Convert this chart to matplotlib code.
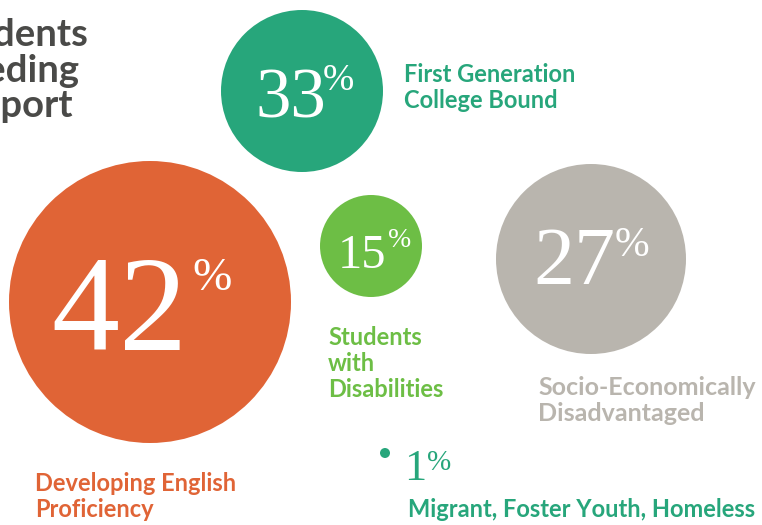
import matplotlib.pyplot as plt
from matplotlib.patches import Circle

# data
values = [42, 33, 15, 27, 1]
labels = ["Developing English\nProficiency",
          "First Generation\nCollege Bound",
          "Students\nwith\nDisabilities",
          "Socio-Economically\nDisadvantaged",
          "Migrant, Foster Youth, Homeless"]
title = "Students\nNeeding\nSupport"

# layout (pixels, y down)
colors = ["#E06436", "#27A67B", "#6DBE45", "#B9B5AE", "#27A67B"]
centers = [(150, 302), (302, 91), (371, 246), (591, 259), (385, 453)]
radii = [141, 81, 51, 95, 5]
num_pos = [(188, 350), (326, 118), (386, 268), (615, 284), (426, 480)]
num_size = [98, 51, 35, 59, 32]
pct_pos = [(192, 258), (323, 64), (388, 228), (615, 227), (427, 450)]
pct_size = [34, 27, 20, 30, 21]
num_color = ["white", "white", "white", "white", "#27A67B"]
# last-line baseline of each label
lab_pos = [(35, 517), (404, 108), (328, 397), (538, 421), (408, 517)]
lab_size = [17, 17, 17, 18, 17]

fig = plt.figure(figsize=(7.62, 5.25), dpi=100)
ax = fig.add_axes([0, 0, 1, 1])
ax.set_xlim(0, 762)
ax.set_ylim(525, 0)
ax.set_aspect("equal")
ax.axis("off")

for i, v in enumerate(values):
    ax.add_patch(Circle(centers[i], radii[i], color=colors[i], lw=0))
    ax.text(num_pos[i][0], num_pos[i][1], str(v), ha="right", va="baseline",
            fontsize=num_size[i], family="Liberation Serif", color=num_color[i])
    ax.text(pct_pos[i][0], pct_pos[i][1], "%", ha="left", va="top",
            fontsize=pct_size[i], family="Liberation Serif", color=num_color[i])
    ax.text(lab_pos[i][0], lab_pos[i][1], labels[i], ha="left", va="baseline",
            fontsize=lab_size[i], family="Lato", weight="bold", color=colors[i],
            linespacing=1.15)

ax.text(-64, 117, title, ha="left", va="baseline", fontsize=27.5,
        family="Lato", weight="bold", color="#4A4A48", linespacing=1.05)

fig.savefig("out.png", dpi=100)
